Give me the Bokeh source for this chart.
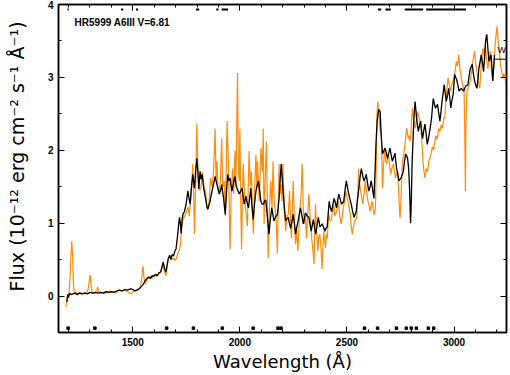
from bokeh.plotting import figure
from bokeh.models import LinearAxis, Range1d, FixedTicker, Label, ColumnDataSource, CustomLabelingPolicy
from bokeh.embed import file_html
from bokeh.resources import INLINE

# ---------------- data ----------------
black_wave = [1192, 1196, 1200, 1205, 1212, 1220, 1230, 1240, 1250, 1262, 1275, 1288, 1300, 1312, 1325, 1338,
              1350, 1362, 1375, 1388, 1400, 1412, 1425, 1438, 1450, 1462, 1475, 1488, 1500, 1510, 1520, 1530,
              1540, 1548, 1556, 1565, 1574, 1582, 1590, 1598, 1606, 1614, 1622, 1630, 1636, 1642, 1648, 1654,
              1660, 1666, 1672, 1678, 1684, 1690, 1696, 1702, 1708, 1714, 1718, 1722, 1726, 1730, 1734, 1741,
              1749, 1757, 1762, 1768, 1774, 1780, 1788, 1793, 1799, 1804, 1808, 1814, 1819, 1824, 1831, 1836,
              1842, 1846, 1850, 1855, 1861, 1867, 1873, 1879, 1884, 1889, 1893, 1899, 1904, 1910, 1915, 1920,
              1924, 1928, 1932, 1937, 1943, 1948, 1954, 1958, 1963, 1970, 1977, 1981, 1986, 1992, 1997, 2004,
              2010, 2015, 2020, 2024, 2028, 2034, 2040, 2046, 2051, 2056, 2062, 2068, 2075, 2081, 2087, 2092,
              2098, 2104, 2110, 2115, 2121, 2128, 2136, 2142, 2149, 2154, 2159, 2166, 2175, 2179, 2183, 2188,
              2193, 2198, 2203, 2208, 2214, 2220, 2226, 2231, 2237, 2243, 2249, 2255, 2260, 2266, 2272, 2277,
              2283, 2290, 2296, 2301, 2306, 2314, 2322, 2328, 2333, 2338, 2343, 2348, 2354, 2360, 2366, 2370,
              2374, 2380, 2385, 2391, 2397, 2402, 2408, 2413, 2417, 2422, 2428, 2434, 2440, 2446, 2451, 2456,
              2462, 2468, 2475, 2480, 2485, 2491, 2497, 2502, 2508, 2514, 2520, 2526, 2533, 2538, 2543, 2548,
              2554, 2560, 2567, 2573, 2579, 2585, 2590, 2596, 2602, 2608, 2613, 2620, 2626, 2631, 2636, 2641,
              2648, 2655, 2660, 2666, 2672, 2678, 2684, 2689, 2695, 2701, 2706, 2712, 2718, 2724, 2728, 2732,
              2738, 2743, 2748, 2752, 2758, 2763, 2768, 2774, 2779, 2783, 2788, 2792, 2795, 2797, 2800, 2804,
              2810, 2814, 2818, 2822, 2825, 2829, 2833, 2838, 2844, 2848, 2853, 2858, 2864, 2870, 2875, 2880,
              2884, 2890, 2895, 2899, 2903, 2908, 2913, 2918, 2923, 2928, 2934, 2939, 2944, 2949, 2954, 2959,
              2964, 2970, 2975, 2980, 2985, 2990, 2996, 3000, 3003, 3008, 3014, 3019, 3023, 3028, 3034, 3040,
              3045, 3050, 3054, 3060, 3065, 3070, 3076, 3081, 3085, 3090, 3096, 3101, 3107, 3112, 3116, 3122,
              3127, 3133, 3138, 3143, 3147, 3150, 3153, 3158, 3163, 3168, 3173, 3177, 3181, 3185, 3189]
black_flux = [-0.08, 0.02, -0.02, 0.04, 0.02, 0.03, 0.04, 0.02, 0.04, 0.03, 0.04, 0.03, 0.05, 0.04, 0.05, 0.04,
              0.05, 0.04, 0.06, 0.05, 0.06, 0.05, 0.07, 0.08, 0.07, 0.09, 0.08, 0.10, 0.09, 0.07, 0.08, 0.10,
              0.13, 0.16, 0.20, 0.24, 0.26, 0.24, 0.28, 0.27, 0.30, 0.28, 0.32, 0.33, 0.40, 0.47, 0.38, 0.33,
              0.42, 0.52, 0.56, 0.50, 0.57, 0.55, 0.61, 0.65, 0.80, 0.98, 1.08, 1.00, 0.86, 1.05, 1.12, 1.16,
              1.26, 1.44, 1.35, 1.26, 1.50, 1.67, 1.48, 1.70, 1.89, 1.70, 1.47, 1.71, 1.60, 1.67, 1.48, 1.40,
              1.30, 1.22, 1.19, 1.24, 1.30, 1.40, 1.48, 1.56, 1.64, 1.58, 1.53, 1.46, 1.40, 1.45, 1.53, 1.42,
              1.34, 1.22, 1.12, 1.40, 1.67, 1.58, 1.62, 1.52, 1.44, 1.55, 1.64, 1.55, 1.48, 1.44, 1.40, 1.44,
              1.48, 1.38, 1.26, 1.32, 1.37, 1.28, 1.21, 1.35, 1.48, 1.25, 1.05, 1.25, 1.44, 1.52, 1.58, 1.45,
              1.30, 1.26, 1.26, 1.30, 1.32, 1.10, 0.85, 1.05, 1.21, 1.12, 1.03, 1.08, 1.12, 1.22, 1.34, 1.60,
              1.81, 1.60, 1.40, 1.20, 1.03, 1.06, 1.08, 1.00, 0.93, 1.02, 1.12, 0.98, 0.85, 0.95, 1.03, 1.12,
              1.21, 1.10, 0.99, 1.06, 1.14, 1.10, 1.08, 0.98, 0.89, 0.97, 1.05, 0.95, 0.85, 0.96, 1.08, 1.02,
              0.95, 0.97, 0.99, 0.94, 0.89, 0.93, 0.95, 1.15, 1.30, 1.22, 1.16, 1.25, 1.34, 1.28, 1.21, 1.30,
              1.40, 1.33, 1.26, 1.28, 1.30, 1.45, 1.58, 1.50, 1.40, 1.33, 1.26, 1.17, 1.08, 1.12, 1.16, 1.30,
              1.44, 1.60, 1.75, 1.66, 1.58, 1.62, 1.67, 1.55, 1.44, 1.50, 1.58, 1.46, 1.34, 1.70, 2.12, 2.40,
              2.56, 2.53, 2.20, 1.95, 1.99, 2.03, 1.96, 1.89, 1.96, 2.03, 1.94, 1.85, 1.90, 1.96, 1.85, 1.75,
              1.66, 1.58, 1.60, 1.62, 1.66, 1.71, 1.83, 1.95, 1.92, 1.89, 1.75, 1.50, 1.20, 1.00, 1.25, 1.80,
              2.26, 2.50, 2.67, 2.55, 2.44, 2.35, 2.26, 2.33, 2.40, 2.28, 2.16, 2.26, 2.36, 2.22, 2.08, 2.15,
              2.22, 2.33, 2.44, 2.58, 2.71, 2.64, 2.58, 2.60, 2.63, 2.52, 2.40, 2.53, 2.67, 2.78, 2.90, 2.78,
              2.67, 2.76, 2.85, 2.72, 2.58, 2.68, 2.77, 2.92, 3.04, 3.00, 2.95, 2.88, 2.81, 2.83, 2.85, 2.83,
              2.81, 2.85, 2.88, 2.89, 2.90, 3.01, 3.12, 3.15, 3.18, 3.06, 2.95, 2.90, 2.85, 2.98, 3.12, 3.22,
              3.31, 3.20, 3.08, 3.28, 3.49, 3.55, 3.59, 3.40, 3.22, 3.27, 3.31, 3.13, 2.95, 3.13, 3.31]

orange_wave = [1188, 1192, 1196, 1202, 1207, 1211, 1215, 1219, 1223, 1228, 1235, 1245, 1255, 1265, 1275, 1285,
               1292, 1297, 1301, 1305, 1310, 1318, 1326, 1332, 1336, 1340, 1350, 1360, 1372, 1385, 1398, 1410,
               1422, 1435, 1448, 1460, 1472, 1482, 1492, 1502, 1512, 1522, 1532, 1540, 1545, 1548, 1552, 1558,
               1565, 1572, 1580, 1588, 1596, 1604, 1612, 1620, 1628, 1636, 1642, 1648, 1655, 1662, 1668, 1674,
               1680, 1686, 1692, 1698, 1704, 1710, 1716, 1722, 1728, 1734, 1742, 1750, 1758, 1764, 1770, 1776,
               1780, 1784, 1788, 1793, 1799, 1803, 1806, 1812, 1818, 1825, 1832, 1839, 1846, 1853, 1858, 1863,
               1870, 1877, 1884, 1889, 1893, 1898, 1904, 1909, 1915, 1920, 1927, 1932, 1936, 1940, 1946, 1950,
               1954, 1959, 1966, 1971, 1977, 1981, 1984, 1989, 1993, 1997, 2000, 2004, 2008, 2012, 2016, 2022,
               2028, 2035, 2039, 2043, 2048, 2054, 2058, 2063, 2068, 2075, 2079, 2082, 2087, 2090, 2094, 2098,
               2105, 2109, 2113, 2118, 2124, 2129, 2132, 2138, 2144, 2150, 2155, 2160, 2164, 2170, 2175, 2179,
               2183, 2188, 2193, 2197, 2201, 2207, 2214, 2220, 2226, 2232, 2237, 2241, 2245, 2249, 2254, 2260,
               2266, 2271, 2276, 2281, 2286, 2291, 2296, 2301, 2306, 2311, 2316, 2322, 2326, 2330, 2334, 2338,
               2342, 2346, 2350, 2353, 2358, 2364, 2368, 2373, 2378, 2384, 2388, 2392, 2396, 2400, 2404, 2408,
               2412, 2415, 2420, 2426, 2432, 2438, 2443, 2449, 2455, 2460, 2466, 2473, 2478, 2483, 2489, 2494,
               2500, 2505, 2511, 2516, 2520, 2525, 2530, 2536, 2542, 2547, 2551, 2554, 2559, 2564, 2569, 2574,
               2580, 2585, 2591, 2598, 2603, 2608, 2613, 2618, 2622, 2626, 2630, 2633, 2636, 2640, 2644, 2649,
               2655, 2660, 2666, 2671, 2676, 2681, 2686, 2690, 2693, 2699, 2704, 2710, 2717, 2722, 2727, 2732,
               2737, 2741, 2745, 2748, 2752, 2756, 2759, 2765, 2771, 2775, 2779, 2786, 2790, 2794, 2798, 2802,
               2806, 2810, 2815, 2818, 2824, 2830, 2836, 2841, 2846, 2850, 2855, 2860, 2864, 2870, 2876, 2882,
               2887, 2893, 2899, 2905, 2910, 2916, 2922, 2928, 2934, 2940, 2946, 2952, 2957, 2962, 2967, 2972,
               2978, 2983, 2990, 2996, 3003, 3011, 3016, 3022, 3028, 3034, 3040, 3047, 3050, 3053, 3056, 3060,
               3065, 3071, 3078, 3083, 3088, 3096, 3101, 3107, 3113, 3120, 3127, 3135, 3141, 3146, 3152, 3158,
               3164, 3169, 3175, 3181, 3187, 3192, 3197, 3201, 3206, 3212, 3216, 3220, 3225, 3228, 3233, 3238,
               3243, 3248]
orange_flux = [-0.15, -0.05, 0.02, 0.03, 0.25, 0.55, 0.75, 0.55, 0.15, 0.04, 0.05, 0.03, 0.05, 0.03, 0.04, 0.05,
               0.10, 0.22, 0.29, 0.15, 0.05, 0.03, 0.05, 0.08, 0.13, 0.06, 0.04, 0.05, 0.04, 0.06, 0.05, 0.06,
               0.05, 0.08, 0.07, 0.08, 0.07, 0.05, 0.03, 0.06, 0.08, 0.09, 0.11, 0.20, 0.35, 0.41, 0.25, 0.16,
               0.22, 0.25, 0.27, 0.24, 0.28, 0.28, 0.27, 0.30, 0.32, 0.38, 0.44, 0.34, 0.28, 0.45, 0.53, 0.55,
               0.52, 0.50, 0.52, 0.49, 0.52, 0.58, 0.62, 0.70, 0.95, 1.05, 1.10, 1.15, 1.22, 1.10, 1.35, 1.55,
               1.81, 1.40, 0.85, 1.50, 2.37, 1.85, 1.60, 1.45, 1.48, 1.70, 1.50, 1.44, 1.25, 1.20, 1.35, 1.62,
               1.50, 1.70, 2.30, 1.60, 1.85, 1.45, 1.40, 1.60, 2.16, 1.50, 1.58, 1.10, 1.70, 2.40, 1.85, 1.30,
               0.64, 1.40, 1.75, 1.40, 1.99, 1.50, 2.08, 3.06, 1.70, 1.58, 2.30, 1.30, 0.64, 1.40, 1.81, 1.40,
               1.16, 0.96, 1.50, 1.99, 1.50, 1.71, 1.20, 0.85, 1.40, 1.94, 1.50, 1.85, 1.55, 1.30, 1.60, 2.03,
               1.71, 2.30, 0.99, 1.58, 2.12, 1.16, 0.52, 1.20, 1.58, 1.20, 1.85, 1.30, 1.21, 1.00, 0.58, 1.20,
               1.81, 1.40, 1.53, 1.30, 1.81, 1.20, 0.89, 1.10, 1.12, 1.44, 1.00, 0.79, 1.20, 1.58, 1.10, 0.71,
               0.90, 0.62, 0.95, 1.21, 1.40, 1.82, 1.20, 0.99, 1.10, 0.79, 1.10, 1.40, 1.20, 0.99, 0.85, 0.71,
               0.60, 0.44, 0.90, 1.26, 0.90, 0.62, 0.80, 0.85, 0.70, 0.37, 0.70, 0.89, 0.75, 0.66, 0.85, 0.79,
               1.00, 1.12, 1.05, 1.03, 1.15, 1.26, 1.10, 1.14, 1.20, 1.30, 1.10, 0.99, 1.10, 1.21, 1.30, 1.44,
               1.35, 1.30, 1.20, 1.12, 0.95, 0.85, 0.95, 1.03, 1.05, 1.12, 1.40, 1.75, 1.55, 1.44, 1.35, 1.26,
               1.40, 1.58, 1.45, 1.30, 1.25, 1.16, 1.25, 1.30, 1.20, 1.12, 1.15, 1.21, 1.70, 2.49, 2.67, 2.50,
               2.26, 2.26, 1.48, 1.80, 2.03, 1.85, 1.81, 1.90, 1.95, 1.80, 1.67, 1.75, 1.81, 1.70, 1.62, 1.68,
               1.71, 1.45, 1.20, 1.07, 1.30, 1.60, 1.85, 1.95, 2.08, 2.20, 2.30, 2.16, 2.20, 2.12, 2.20, 2.45,
               2.58, 2.44, 2.35, 2.30, 2.40, 2.53, 2.45, 2.40, 2.30, 2.10, 1.85, 1.70, 1.62, 1.75, 1.70, 1.85,
               1.89, 1.95, 2.05, 2.00, 2.12, 2.20, 2.15, 2.30, 2.26, 2.35, 2.30, 2.44, 2.44, 2.70, 2.85, 2.99,
               2.90, 2.81, 2.90, 2.95, 3.05, 3.22, 3.15, 3.31, 3.10, 2.99, 2.90, 2.81, 2.30, 1.44, 2.40, 2.80,
               2.85, 2.90, 2.99, 3.10, 3.22, 3.36, 3.20, 3.08, 2.95, 2.85, 3.18, 3.40, 3.30, 3.45, 3.25, 3.12,
               3.25, 3.36, 3.10, 2.95, 3.20, 3.45, 3.60, 3.70, 3.50, 3.36, 3.20, 3.12, 3.05, 2.99, 3.05, 3.01,
               2.85, 2.71]

# end-of-spectrum marker segment ("W")
w_wave = [3189, 3245]
w_flux = [3.25, 3.25]

# quality flags
top_flag_start = [1195, 1445, 1515, 1795, 1890, 1915, 2645, 2680, 2770, 2870]
top_flag_end = [1201, 1455, 1525, 1810, 1900, 1945, 2660, 2705, 2856, 3056]
top_flag_level = [3.93] * len(top_flag_start)
bottom_flag_wave = [1198, 1323, 1658, 1783, 1918, 2062, 2178, 2192, 2582, 2643, 2731, 2777, 2800, 2824, 2880, 2905]
bottom_flag_level = [-0.44] * len(bottom_flag_wave)

x_major = [1500, 2000, 2500, 3000]
x_minor = list(range(1200, 3300, 100))
y_major = [0, 1, 2, 3, 4]
y_minor = [-0.5, 0.5, 1.5, 2.5, 3.5]

title_text = "HR5999  A6III  V=6.81"
x_title = "Wavelength (Å)"
y_title = "\u00a0\u00a0\u00a0\u00a0Flux (10\u207b\u00b9\u00b2 erg cm\u207b\u00b2 s\u207b\u00b9 \u00c5\u207b\u00b9)"

# ---------------- figure ----------------
FONT = "Liberation Sans"
LABEL_FONT = "DejaVu Sans"
p = figure(width=510, height=375, output_backend="svg", toolbar_location=None,
           x_range=Range1d(1153, 3245), y_range=Range1d(-0.5, 4.0),
           min_border_left=58, min_border_right=0, min_border_top=0, min_border_bottom=43,
           x_axis_label=x_title, y_axis_label=y_title)
p.grid.visible = False
p.outline_line_color = "black"
p.outline_line_width = 1.5
p.background_fill_color = "white"
p.border_fill_color = "white"

no_labels = CustomLabelingPolicy(code="return new Set()")


def style_axis(ax, ticks, minor, labels=True):
    ax.ticker = FixedTicker(ticks=ticks, minor_ticks=minor)
    ax.axis_line_width = 1.5
    ax.axis_line_color = "black"
    ax.major_tick_in = 6
    ax.major_tick_out = 0
    ax.minor_tick_in = 3
    ax.minor_tick_out = 0
    ax.major_tick_line_color = "black"
    ax.minor_tick_line_color = "black"
    if labels:
        ax.major_label_text_font = FONT
        ax.major_label_text_font_size = "10px"
        ax.major_label_text_font_style = "bold"
        ax.major_label_text_color = "black"
        ax.major_label_standoff = 5
        ax.axis_label_text_font = LABEL_FONT
        ax.axis_label_text_font_size = "18px"
        ax.axis_label_text_font_style = "normal"
        ax.axis_label_text_color = "black"
    else:
        ax.major_label_policy = no_labels
        ax.major_label_text_font_size = "1px"
        ax.major_label_standoff = 0


style_axis(p.xaxis[0], x_major, x_minor)
style_axis(p.yaxis[0], y_major, y_minor)
p.xaxis[0].axis_label_standoff = 2
p.yaxis[0].axis_label_standoff = 17
p.yaxis[0].axis_label_text_font_size = "19px"

top_ax = LinearAxis()
style_axis(top_ax, x_major, x_minor, labels=False)
p.add_layout(top_ax, "above")
right_ax = LinearAxis()
style_axis(right_ax, y_major, y_minor, labels=False)
p.add_layout(right_ax, "right")

orange_src = ColumnDataSource(dict(x=orange_wave, y=orange_flux))
black_src = ColumnDataSource(dict(x=black_wave, y=black_flux))
p.line("x", "y", source=orange_src, line_color="#ff8c0a", line_width=1.2)
p.line("x", "y", source=black_src, line_color="black", line_width=1.3)
p.line(w_wave, w_flux, line_color="black", line_width=1)

p.segment(x0=top_flag_start, y0=top_flag_level, x1=top_flag_end, y1=top_flag_level,
          line_color="black", line_width=2)
p.scatter(bottom_flag_wave, bottom_flag_level, marker="square", size=2.5,
          fill_color="black", line_color="black")

p.add_layout(Label(x=1228, y=3.68, text=title_text, text_font=FONT, text_font_size="10px",
                   text_font_style="bold", text_color="black"))
p.add_layout(Label(x=3203, y=3.31, text="W", text_font=FONT, text_font_size="9px",
                   text_color="black"))

open("out.html", "w").write(file_html(p, INLINE))
